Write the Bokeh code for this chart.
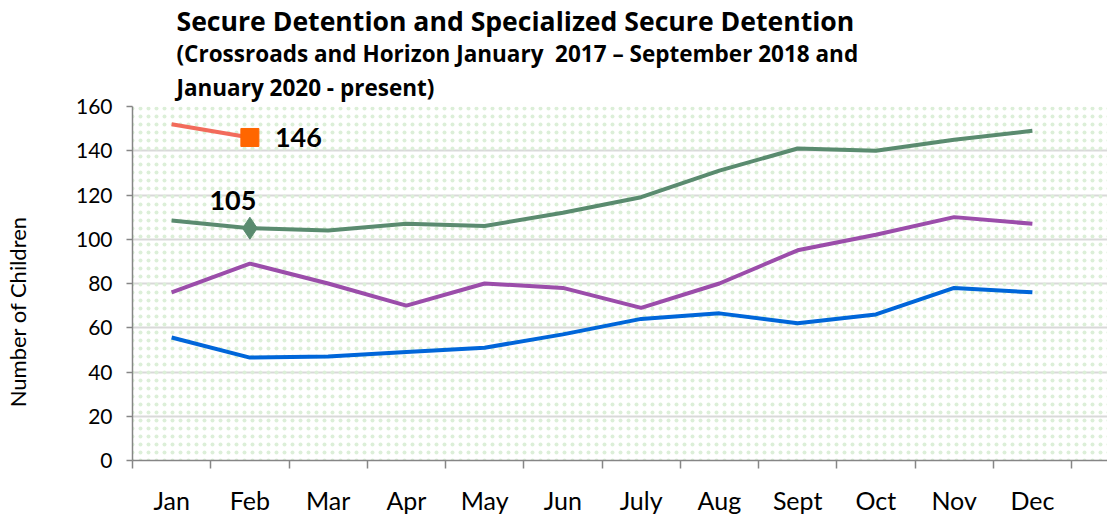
from bokeh.plotting import figure
from bokeh.models import FixedTicker, Label, BoxAnnotation, Range1d, Title
from bokeh.embed import file_html
from bokeh.resources import INLINE

months = ["Jan", "Feb", "Mar", "Apr", "May", "Jun", "July", "Aug", "Sept", "Oct", "Nov", "Dec"]
red_series = [152, 146]
green_series = [108.5, 105, 104, 107, 106, 112, 119, 131, 141, 140, 145, 149]
purple_series = [76, 89, 80, 70, 80, 78, 69, 80, 95, 102, 110, 107]
blue_series = [55.6, 46.5, 47, 49, 51, 57, 64, 66.5, 62, 66, 78, 76]
y_ticks = [0, 20, 40, 60, 80, 100, 120, 140, 160]

title1 = "Secure Detention and Specialized Secure Detention"
title2 = "(Crossroads and Horizon January\u00a0 2017 \u2013 September 2018 and"
title3 = "January 2020 - present)"
y_title = "Number of Children"

FONT = "Lato"
TFONT = "Open Sans"

x = list(range(len(months)))

p = figure(width=1107, height=517, output_backend="svg", toolbar_location=None,
           x_range=Range1d(-0.5, 11.96), y_range=Range1d(0, 160),
           min_border_left=131, min_border_right=0, min_border_top=106, min_border_bottom=54)
p.outline_line_color = None
p.background_fill_color = "white"
p.border_fill_color = "white"

p.add_layout(BoxAnnotation(fill_alpha=0, line_alpha=0, hatch_pattern="dot",
                           hatch_color="#dcefd8", hatch_alpha=1.0, hatch_scale=8,
                           hatch_weight=1, level="underlay"))

# axes
p.xaxis.ticker = FixedTicker(ticks=x, minor_ticks=[i - 0.5 for i in range(len(months) + 1)])
p.xaxis.major_label_overrides = {i: m for i, m in enumerate(months)}
p.xaxis.major_tick_line_color = None
p.xaxis.major_tick_out = 8
p.xaxis.minor_tick_out = 8
p.xaxis.minor_tick_in = 0
p.xaxis.minor_tick_line_color = "#868686"
p.xaxis.minor_tick_line_width = 1.5
p.xaxis.axis_line_color = "#868686"
p.xaxis.axis_line_width = 1.5
p.xaxis.major_label_standoff = 16
p.xaxis.major_label_text_font = FONT
p.xaxis.major_label_text_font_size = "25px"
p.xaxis.major_label_text_color = "#000000"

p.yaxis.ticker = FixedTicker(ticks=y_ticks)
p.yaxis.major_tick_out = 6
p.yaxis.major_tick_in = 0
p.yaxis.minor_tick_line_color = None
p.yaxis.major_tick_line_color = "#868686"
p.yaxis.major_tick_line_width = 1.5
p.yaxis.axis_line_color = "#868686"
p.yaxis.axis_line_width = 1.5
p.yaxis.major_label_standoff = 14
p.yaxis.major_label_text_font = FONT
p.yaxis.major_label_text_font_size = "21px"
p.yaxis.major_label_text_color = "#000000"
# trailing no-break spaces shift the rotated title slightly below the frame centre, as in the reference
p.yaxis.axis_label = y_title + "\u00a0" * 10
p.yaxis.axis_label_standoff = 42
p.yaxis.axis_label_text_font = FONT
p.yaxis.axis_label_text_font_size = "22px"
p.yaxis.axis_label_text_font_style = "normal"
p.yaxis.axis_label_text_color = "#000000"

p.xgrid.grid_line_color = None
p.ygrid.ticker = FixedTicker(ticks=y_ticks)
p.ygrid.grid_line_color = "#d9d9d9"
p.ygrid.grid_line_width = 2

# series
p.line(x, green_series, line_color="#5A8B6F", line_width=4)
p.line(x, purple_series, line_color="#9B4DAA", line_width=4)
p.line(x, blue_series, line_color="#0066D9", line_width=4)
p.line(x[:len(red_series)], red_series, line_color="#F26B5B", line_width=4)

p.scatter([x[1]], [green_series[1]], marker="diamond", size=22, color="#5A8B6F")
p.scatter([x[1]], [red_series[1]], marker="square", size=18, color="#FF6600")

p.add_layout(Label(x=x[1], y=red_series[1], text=str(red_series[1]), x_offset=25,
                   text_font=FONT, text_font_style="bold", text_font_size="27px",
                   text_baseline="middle", text_align="left", text_color="#000000"))
p.add_layout(Label(x=x[1], y=green_series[1], text=str(green_series[1]), x_offset=-17, y_offset=28,
                   text_font=FONT, text_font_style="bold", text_font_size="27px",
                   text_baseline="middle", text_align="center", text_color="#000000"))

# titles (added from the plot outward)
p.title.visible = False
p.add_layout(Title(text=title3, align="left", offset=44, standoff=7, text_line_height=0.85,
                   text_font=TFONT, text_font_style="bold", text_font_size="22.5px",
                   text_color="#000000"), "above")
p.add_layout(Title(text=title2, align="left", offset=44, standoff=-5, text_line_height=0.85,
                   text_font=TFONT, text_font_style="bold", text_font_size="22.5px",
                   text_color="#000000"), "above")
p.add_layout(Title(text=title1, align="left", offset=44, standoff=-1, text_line_height=0.85,
                   text_font=TFONT, text_font_style="bold", text_font_size="26.6px",
                   text_color="#000000"), "above")

open("out.html", "w").write(file_html(p, INLINE))
